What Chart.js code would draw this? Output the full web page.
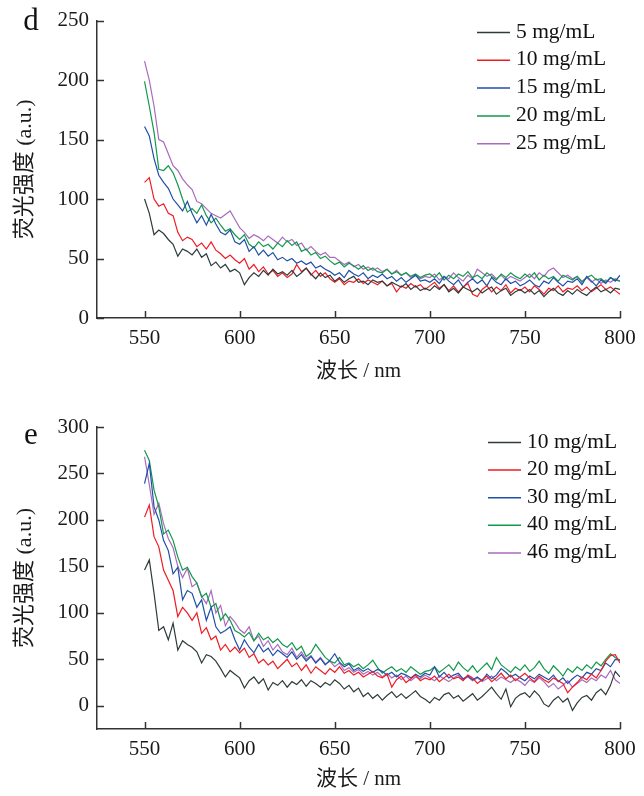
<!DOCTYPE html>
<html>
<head>
<meta charset="utf-8">
<script src="https://cdn.jsdelivr.net/npm/chart.js@4.4.1/dist/chart.umd.min.js"></script>
<style>
  html, body { margin: 0; padding: 0; background: #fff; }
  #wrap { position: relative; width: 644px; height: 796px; }
  canvas { position: absolute; left: 0; }
  #chartD { top: 0; }
  #chartE { top: 398px; }
</style>
</head>
<body>
<div id="wrap">
  <canvas id="chartD" width="644" height="398"></canvas>
  <canvas id="chartE" width="644" height="398"></canvas>
</div>
<script>
// wavelength grid (nm)
const wavelengths = [
  550, 552.5, 555, 557.5, 560, 562.5, 565, 567.5, 570, 572.5,
  575, 577.5, 580, 582.5, 585, 587.5, 590, 592.5, 595, 597.5,
  600, 602.5, 605, 607.5, 610, 612.5, 615, 617.5, 620, 622.5,
  625, 627.5, 630, 632.5, 635, 637.5, 640, 642.5, 645, 647.5,
  650, 652.5, 655, 657.5, 660, 662.5, 665, 667.5, 670, 672.5,
  675, 677.5, 680, 682.5, 685, 687.5, 690, 692.5, 695, 697.5,
  700, 702.5, 705, 707.5, 710, 712.5, 715, 717.5, 720, 722.5,
  725, 727.5, 730, 732.5, 735, 737.5, 740, 742.5, 745, 747.5,
  750, 752.5, 755, 757.5, 760, 762.5, 765, 767.5, 770, 772.5,
  775, 777.5, 780, 782.5, 785, 787.5, 790, 792.5, 795, 797.5,
  800
];

const xTicks = [550, 600, 650, 700, 750, 800];
const yTicksD = [0, 50, 100, 150, 200, 250];
const yTicksE = [0, 50, 100, 150, 200, 250, 300];

// --- panel d ---
const labelsD = ['5 mg/mL', '10 mg/mL', '15 mg/mL', '20 mg/mL', '25 mg/mL'];
const d05 = [
  100, 88, 70, 74, 71, 66, 62, 52, 58, 56,
  53, 58, 51, 54, 44, 47, 42, 45, 39, 41,
  38, 28, 34, 38, 35, 40, 36, 41, 37, 39,
  36, 40, 35, 38, 42, 37, 33, 38, 34, 36,
  31, 34, 30, 33, 35, 30, 31, 28, 32, 30,
  31, 27, 30, 28, 26, 29, 24, 27, 23, 25,
  23, 27, 24, 28, 22, 25, 21, 26, 24, 22,
  25, 21, 24, 26, 20, 23, 25, 19, 22, 24,
  21, 24, 20, 23, 18, 22, 25, 21, 19, 23,
  20, 24, 21, 19, 23, 26, 22, 24, 21, 25,
  24
];
const d10 = [
  114, 118, 100, 94, 96, 88, 86, 72, 65, 68,
  66, 60, 63, 58, 64, 57, 54, 50, 53, 49,
  46, 50, 41, 45, 39, 43, 37, 40, 35, 38,
  34, 37, 45, 39, 42, 36, 40, 35, 38, 33,
  30, 33, 28, 31, 30, 33, 29, 32, 30, 28,
  31, 27, 29, 22, 27, 25, 29, 26, 28, 24,
  27, 30, 25, 28, 23, 27, 22, 26, 29, 20,
  18, 24, 27, 22, 26, 23, 28, 21, 25, 23,
  26, 22, 27, 24, 20, 25, 23, 27, 22, 25,
  24, 27, 23, 26, 22, 25, 28, 24, 26, 23,
  20
];
const d15 = [
  161, 153, 134, 120, 114, 109, 100, 95, 90, 98,
  88, 80, 86, 78, 87, 79, 72, 70, 74, 64,
  62, 66, 56, 60, 53, 57, 52, 55, 49, 51,
  48, 50, 46, 48, 45, 47, 42, 44, 41, 39,
  36, 38, 34, 40, 37, 35, 38, 33, 36, 34,
  37, 33, 35, 31, 34, 30, 33, 36, 31, 32,
  30, 33, 29, 35, 31, 28, 32, 26, 30, 33,
  29, 32, 27, 34, 30, 28, 33, 29, 31, 27,
  29, 32, 28, 26, 31, 29, 34, 30, 27, 31,
  30, 33, 28, 35, 31, 27, 32, 29, 34, 31,
  36
];
const d20 = [
  199, 178, 156, 125, 124, 128, 122, 112, 100, 89,
  92, 88, 95, 86, 80, 84, 78, 73, 75, 70,
  66, 70, 62, 59, 64, 60, 62, 58, 63, 60,
  65, 61, 64, 56, 58, 53, 55, 50, 52, 48,
  45, 47, 43, 46, 44, 41, 44, 40, 42, 39,
  38, 41, 37, 39, 36, 38, 35, 37, 34, 36,
  37, 34, 38, 32, 36, 33, 37, 35, 39, 34,
  36, 33, 38, 35, 32, 37, 34, 38, 35, 33,
  37, 34, 38, 32, 36, 33, 35, 31, 36, 34,
  32, 35, 30, 34, 36, 32, 33, 30, 34, 32,
  31
];
const d25 = [
  216, 200, 178, 150, 148, 138, 128, 124, 117, 112,
  108, 98, 96, 92, 88, 86, 84, 87, 90, 83,
  76, 72, 67, 70, 68, 65, 69, 66, 63, 68,
  64, 66, 61, 63, 57, 60, 56, 53, 55, 51,
  51, 48, 45, 47, 43, 45, 41, 43, 40, 42,
  39, 41, 37, 40, 36, 38, 34, 36, 33, 35,
  34, 37, 32, 35, 33, 38, 34, 31, 36, 33,
  41, 38, 35, 37, 33, 36, 32, 35, 33, 31,
  34, 37, 33, 38, 35, 40, 42, 38, 34, 36,
  33, 35, 31, 34, 30, 33, 29, 32, 30, 33,
  31
];

// --- panel e ---
const labelsE = ['10 mg/mL', '20 mg/mL', '30 mg/mL', '40 mg/mL', '46 mg/mL'];
const e10 = [
  146, 157, 121, 81, 85, 71, 89, 60, 70, 66,
  63, 58, 46, 55, 53, 48, 40, 31, 38, 34,
  30, 19, 27, 31, 24, 29, 17, 25, 22, 27,
  20, 26, 23, 28, 21, 27, 24, 20, 25, 22,
  28, 24, 18, 22, 15, 19, 10, 14, 8, 12,
  6, 11, 15, 9, 13, 8, 12, 16, 10, 7,
  3, 9, 6, 12, 14, 8, 11, 5, 9, 13,
  6, 10, 15, 20, 13, 7, 18, -1, 8, 12,
  14, 9, 16, 11, 2, -1, 6, 10, 4, 8,
  -5, 3, 9, 11, 6, 14, 18, 12, 22, 37,
  31
];
const e20 = [
  203, 216, 182, 171, 146, 135, 124, 96, 106, 100,
  92, 100, 78, 84, 71, 75, 60, 66, 58, 63,
  57, 62, 52, 56, 46, 50, 44, 48, 40, 45,
  50, 42, 46, 38, 44, 35, 42, 38, 34, 40,
  36, 42, 35, 38, 33, 36, 31, 34, 37, 32,
  30, 34, 20, 28, 32, 25, 29, 33, 27, 30,
  28, 32, 26, 30, 34, 29, 31, 27, 33, 30,
  24, 28, 32, 26, 30, 35, 29, 33, 27, 31,
  35, 30, 26, 32, 28, 25, 30, 27, 24, 14,
  20, 25, 31, 28, 34, 30, 38, 48, 54, 55,
  46
];
const e30 = [
  239, 261, 214, 200, 178, 167, 142, 149, 114, 124,
  121, 106, 114, 92, 106, 85, 78, 81, 85, 71,
  60, 71, 63, 57, 66, 58, 62, 54, 60, 56,
  52, 58, 50, 55, 48, 53, 46, 51, 44, 49,
  56, 47, 42, 45, 38, 41, 37, 40, 36, 39,
  37, 33, 36, 31, 35, 33, 30, 34, 31, 35,
  33, 42, 31, 36, 30, 33, 35, 29, 32, 28,
  31, 27, 34, 29, 33, 40, 36, 31, 34, 30,
  27, 32, 29, 34, 31, 28, 33, 26, 30, 24,
  29, 33, 30, 36, 34, 40, 38, 46, 42, 50,
  49
];
const e40 = [
  275, 264, 232, 214, 185, 189, 178, 160, 146, 149,
  139, 132, 117, 121, 106, 110, 92, 99, 92, 81,
  78, 74, 79, 70, 78, 71, 74, 68, 72, 66,
  63, 68, 60, 64, 53, 57, 66, 59, 52, 48,
  46, 52, 44, 46, 42, 45, 40, 44, 49, 41,
  35, 39, 42, 37, 40, 36, 42, 38, 34, 37,
  38, 42, 36, 40, 44, 38, 47, 41, 37, 43,
  36, 41, 46, 39, 52, 44, 40, 36, 42, 38,
  44, 37, 41, 48, 40, 35, 43, 38, 32, 40,
  36, 42, 38, 44, 40, 47, 43, 50, 56, 52,
  49
];
const e46 = [
  268, 238, 206, 218, 196, 180, 170, 150, 138, 148,
  128, 132, 118, 110, 124, 100, 108, 86, 96, 90,
  82, 78, 85, 70, 75, 64, 70, 60, 66, 58,
  55, 62, 52, 58, 50, 54, 47, 52, 45, 48,
  42, 46, 38, 41, 36, 39, 34, 37, 33, 36,
  31, 35, 30, 33, 28, 32, 27, 31, 29, 33,
  30, 27, 32, 29, 26, 30, 33, 28, 31, 27,
  30, 26, 29, 32, 27, 31, 28, 25, 29, 26,
  22, 28, 25, 30, 26, 20, 24, 18, 22, 27,
  20, 24, 28, 25, 30, 27, 33, 30, 38, 28,
  24
];

const palette = ['#2f3b3b', '#ee1c24', '#1f4fa8', '#12994a', '#a86bbd'];
const serif = '"Liberation Serif", "Noto Sans CJK SC", serif';

// inward tick marks, legend and panel letter
const decorPlugin = {
  id: 'decor',
  afterDraw(chart, args, opts) {
    const ctx = chart.ctx;
    const area = chart.chartArea;
    const xs = chart.scales.x, ys = chart.scales.y;
    ctx.save();
    ctx.strokeStyle = '#333';
    ctx.lineWidth = 1.5;
    xs.ticks.forEach(t => {
      const px = Math.round(xs.getPixelForValue(t.value)) + 0.5;
      ctx.beginPath();
      ctx.moveTo(px, area.bottom);
      ctx.lineTo(px, area.bottom - 7);
      ctx.stroke();
    });
    ys.ticks.forEach(t => {
      const py = Math.round(ys.getPixelForValue(t.value)) + 0.5;
      ctx.beginPath();
      ctx.moveTo(area.left, py);
      ctx.lineTo(area.left + 7, py);
      ctx.stroke();
    });

    // legend
    ctx.font = '21.5px ' + serif;
    ctx.textBaseline = 'middle';
    ctx.textAlign = 'left';
    chart.data.datasets.forEach((ds, i) => {
      const y = opts.legendY + i * opts.legendStep;
      ctx.strokeStyle = ds.borderColor;
      ctx.lineWidth = 1.5;
      ctx.beginPath();
      ctx.moveTo(opts.lineX1, y + 0.5);
      ctx.lineTo(opts.lineX2, y + 0.5);
      ctx.stroke();
      ctx.fillStyle = '#111';
      ctx.fillText(ds.label, opts.textX, y);
    });

    // panel letter
    ctx.font = '31px ' + serif;
    ctx.textAlign = 'center';
    ctx.fillStyle = '#111';
    ctx.fillText(opts.letter, opts.letterX, opts.letterY);
    ctx.restore();
  }
};

function makePanel(canvasId, labels, series, yMin, yMax, yTicks, layout, decor) {
  const ctx = document.getElementById(canvasId).getContext('2d');
  new Chart(ctx, {
    type: 'line',
    data: {
      datasets: series.map((s, i) => ({
        label: labels[i],
        data: s.map((v, j) => ({ x: wavelengths[j], y: v })),
        borderColor: palette[i],
        borderWidth: 1.2,
        pointRadius: 0,
        fill: false,
        tension: 0
      }))
    },
    options: {
      responsive: false,
      animation: false,
      devicePixelRatio: 1,
      layout: { padding: { top: layout.top, right: 24, bottom: 0, left: 0 } },
      scales: {
        x: {
          type: 'linear',
          min: 525,
          max: 800,
          afterBuildTicks: s => { s.ticks = xTicks.map(v => ({ value: v })); },
          afterFit: s => { s.height = layout.xHeight; },
          grid: { display: false, drawTicks: false },
          border: { display: true, color: '#333', width: 1.5 },
          ticks: { font: { family: serif, size: 21 }, color: '#1a1a1a', padding: 8, maxRotation: 0, autoSkip: false },
          title: {
            display: true, text: '波长 / nm', color: '#1a1a1a',
            font: { family: serif, size: 21 },
            padding: { top: 0, bottom: layout.xTitlePad }
          }
        },
        y: {
          min: yMin,
          max: yMax,
          afterBuildTicks: s => { s.ticks = yTicks.map(v => ({ value: v })); },
          afterFit: s => { s.width = 97; },
          grid: { display: false, drawTicks: false },
          border: { display: true, color: '#333', width: 1.5 },
          ticks: { font: { family: serif, size: 21 }, color: '#1a1a1a', padding: 8 },
          title: {
            display: true, text: '荧光强度 (a.u.)', color: '#1a1a1a',
            font: { family: serif, size: 22 },
            padding: { top: 12, bottom: 0 }
          }
        }
      },
      plugins: {
        legend: { display: false },
        tooltip: { enabled: false },
        decor: decor
      }
    },
    plugins: [decorPlugin]
  });
}

makePanel('chartD', labelsD, [d05, d10, d15, d20, d25], 0, 250, yTicksD,
  { top: 17, xHeight: 80, xTitlePad: 14 },
  { legendY: 32, legendStep: 27.8, lineX1: 477, lineX2: 510, textX: 516, letter: 'd', letterX: 31, letterY: 22 });

makePanel('chartE', labelsE, [e10, e20, e30, e40, e46], -25, 300, yTicksE,
  { top: 29, xHeight: 67, xTitlePad: 4 },
  { legendY: 44, legendStep: 27.6, lineX1: 488, lineX2: 521, textX: 527, letter: 'e', letterX: 31, letterY: 38 });
</script>
</body>
</html>
